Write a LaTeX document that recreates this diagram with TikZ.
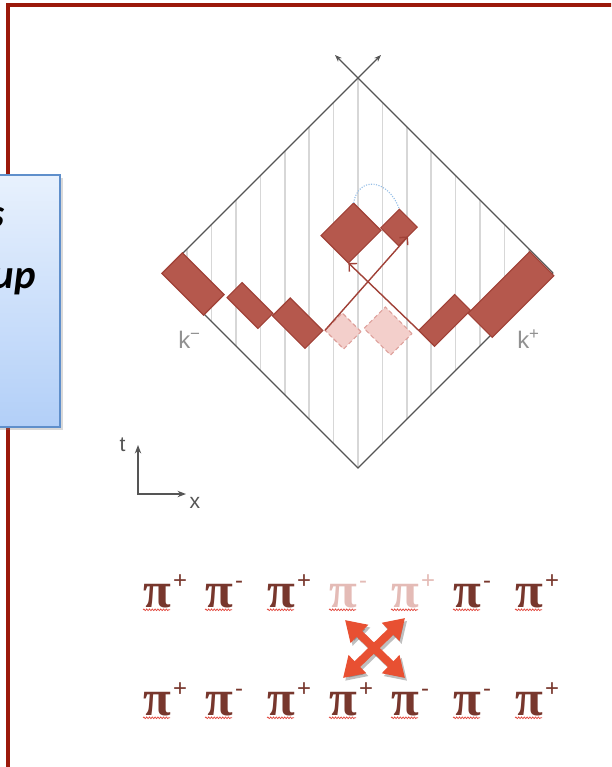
\documentclass[tikz,border=0pt]{standalone}
\usepackage{fontspec}
\setsansfont{Liberation Sans}
\newfontfamily\calfont{Carlito}
\newfontfamily\greekfont{Liberation Serif}
\usetikzlibrary{positioning, arrows.meta, shadows, decorations.pathmorphing}

\definecolor{framered}{RGB}{155,25,10}
\definecolor{boxtop}{RGB}{232,241,253}
\definecolor{boxbot}{RGB}{178,207,248}
\definecolor{boxline}{RGB}{95,143,203}
\definecolor{conegray}{RGB}{85,85,85}
\definecolor{gridgray}{RGB}{215,215,215}
\definecolor{lblgray}{RGB}{145,145,145}
\definecolor{redfill}{RGB}{181,88,77}
\definecolor{redline}{RGB}{160,65,55}
\definecolor{pinkfill}{RGB}{243,207,203}
\definecolor{pinkline}{RGB}{222,160,155}
\definecolor{arcblue}{RGB}{150,190,230}
\definecolor{pidark}{RGB}{120,55,45}
\definecolor{pipale}{RGB}{228,187,182}
\definecolor{xorange}{RGB}{232,80,50}
\definecolor{squigred}{RGB}{225,70,60}

\newcommand{\pion}[1]{\textbf{π}\kern1.5pt\raisebox{0.47cm}{\sffamily\fontsize{17}{17}\selectfont#1}}

\begin{document}
\begin{tikzpicture}[
  x=0.025cm, y=-0.025cm,
  >=Stealth,
  frame/.style={draw=framered, line width=2.2pt},
  infobox/.style={draw=boxline, line width=1.4pt, top color=boxtop, bottom color=boxbot,
                  drop shadow={shadow xshift=2pt, shadow yshift=-2pt, opacity=0.3}},
  boxtxt/.style={font=\calfont\bfseries\itshape\fontsize{29}{35}\selectfont,
                 anchor=base east, inner sep=0pt},
  cone/.style={draw=conegray, line width=0.9pt},
  grid/.style={draw=gridgray, line width=1.1pt},
  blob/.style={draw=#1line, fill=#1fill, line width=0.8pt, rotate=-45,
               inner sep=0pt, outer sep=0pt},
  ghost/.style={blob=pink, densely dashed},
  rarr/.style={draw=redline, line width=1pt, -{Straight Barb[length=4pt]}},
  arc/.style={draw=arcblue, densely dotted, line width=0.8pt},
  klbl/.style={text=lblgray, font=\sffamily\fontsize{17}{17}\selectfont,
               anchor=base west, inner sep=0pt},
  axlbl/.style={text=conegray, font=\sffamily\fontsize{15}{15}\selectfont, inner sep=0pt},
  axis/.style={draw=conegray, line width=1pt, {Stealth[length=6pt]}-{Stealth[length=6pt]}},
  pion/.style={font=\greekfont\fontsize{36}{40}\selectfont, anchor=base west, inner sep=0pt},
  squig/.style={draw=squigred, line width=0.5pt,
                decorate, decoration={snake, segment length=2pt, amplitude=0.6pt}},
  bigx/.style={draw=xorange, line width=0.2cm,
               {Triangle[length=0.5cm, width=0.6cm]}-{Triangle[length=0.5cm, width=0.6cm]}},
]

\useasboundingbox (0,0) rectangle (611,767);
\clip (0,0) rectangle (611,767);

%% ===== SLIDE FRAME & SIDE BOX =====

\draw[frame] (8,800) |- (650,5);

\node[infobox, minimum width=2.2cm, minimum height=6.3cm] (info) at (16,301) {};
\node[boxtxt] (info1) at (5,228) {s};
\node[boxtxt] (info2) at (36,288) {up};

%% ===== LIGHT CONE =====

\coordinate (ctop)   at (358,78);
\coordinate (cbot)   at (358,468);
\coordinate (cleft)  at (163,273);
\coordinate (cright) at (553,273);
\coordinate (tipL)   at (335,55);
\coordinate (tipR)   at (381,55);

\foreach \k in {-7,...,7} {
  \pgfmathsetmacro\d{abs(\k)*24.4}
  \draw[grid] ({358+\k*24.4},{78+\d}) -- ({358+\k*24.4},{468-\d});
}

\draw[cone, -{Stealth[length=5pt]}] (cright) -- (cbot) -- (cleft) -- (ctop) -- (tipR);
\draw[cone, -{Stealth[length=5pt]}] (cright) -- (ctop) -- (tipL);

%% ===== STRING OF PIONS =====

\node[blob=red, minimum width=1.475cm, minimum height=0.725cm] (s1) at (193,284) {};
\node[blob=red, minimum width=1.09cm,  minimum height=0.53cm]  (s2) at (250,305.5) {};
\node[blob=red, minimum width=1.15cm,  minimum height=0.63cm]  (s3) at (297.6,323.2) {};
\node[ghost,    minimum width=0.66cm,  minimum height=0.61cm]  (g4) at (343,331) {};
\node[ghost,    minimum width=0.94cm,  minimum height=0.755cm] (g5) at (388,331) {};
\node[blob=red, minimum width=0.56cm,  minimum height=1.27cm]  (s6) at (444.6,320.4) {};
\node[blob=red, minimum width=0.855cm, minimum height=2.18cm]  (s7) at (511,294.5) {};

\node[blob=red, minimum width=0.97cm, minimum height=1.15cm] (up1) at (351,233) {};
\node[blob=red, minimum width=0.63cm, minimum height=0.66cm] (up2) at (399,227.5) {};

\draw[arc] (up1.north west) .. controls (358,176) and (388,178) .. (up2.north west);

\node[klbl] (kminus) at (178,348) {k\raisebox{0.22cm}{\fontsize{12}{12}\selectfont−}};
\node[klbl] (kplus)  at (517,348) {k\raisebox{0.22cm}{\fontsize{12}{12}\selectfont+}};

%% ===== AXES =====

\coordinate (orig) at (138,494);
\coordinate (tend) at (138,445);
\coordinate (xend) at (186,494);
\draw[axis] (tend) -- (orig) -- (xend);
\node[axlbl] (tlbl) at (122.5,445) {t};
\node[axlbl] (xlbl) at (195,503) {x};

%% ===== PION ROWS =====

\foreach \s/\c [count=\i] in {+/pidark, -/pidark, +/pidark, -/pipale, +/pipale, -/pidark, +/pidark}
  \node[pion, text=\c] (pa\i) at ({143+62*(\i-1)},607) {\pion{\s}};

\foreach \s [count=\i] in {+, -, +, +, -, -, +}
  \node[pion, text=pidark] (pb\i) at ({143+62*(\i-1)},715) {\pion{\s}};

\foreach \i in {1,...,7} {
  \draw[squig] ([yshift=-2pt]pa\i.base west) -- ++(27,0);
  \draw[squig] ([yshift=-2pt]pb\i.base west) -- ++(27,0);
}

\coordinate (xul) at (345,620);
\coordinate (xur) at (405,618);
\coordinate (xll) at (343,678);
\coordinate (xlr) at (405,678);

%% ===== ARROWS =====

\draw[rarr] (g4.south west) -- (up2.east);
\draw[rarr] (s6.south west) -- (up1.south east);

\begin{scope}[transform canvas={shift={(1.5pt,-2pt)}}]
  \draw[bigx, draw=black, opacity=0.25] (xul) -- (xlr);
  \draw[bigx, draw=black, opacity=0.25] (xur) -- (xll);
\end{scope}
\draw[bigx] (xul) -- (xlr);
\draw[bigx] (xur) -- (xll);

\end{tikzpicture}
\end{document}
